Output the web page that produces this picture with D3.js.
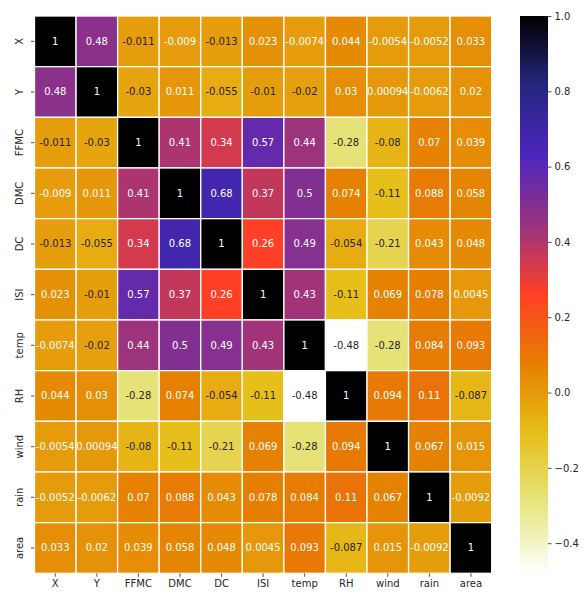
<!DOCTYPE html>
<html>
<head>
<meta charset="utf-8">
<script src="https://cdn.jsdelivr.net/npm/d3@7"></script>
<style>
  html, body { margin: 0; padding: 0; background: #fff; }
  svg { display: block; font-family: "DejaVu Sans", sans-serif; }
</style>
</head>
<body>
<svg id="chart" width="588" height="595"></svg>
<script>
// Forest fire feature correlation matrix
const variables = ["X", "Y", "FFMC", "DMC", "DC", "ISI", "temp", "RH", "wind", "rain", "area"];

const rowX    = [1, 0.48, -0.011, -0.009, -0.013, 0.023, -0.0074, 0.044, -0.0054, -0.0052, 0.033];
const rowY    = [0.48, 1, -0.03, 0.011, -0.055, -0.01, -0.02, 0.03, 0.00094, -0.0062, 0.02];
const rowFFMC = [-0.011, -0.03, 1, 0.41, 0.34, 0.57, 0.44, -0.28, -0.08, 0.07, 0.039];
const rowDMC  = [-0.009, 0.011, 0.41, 1, 0.68, 0.37, 0.5, 0.074, -0.11, 0.088, 0.058];
const rowDC   = [-0.013, -0.055, 0.34, 0.68, 1, 0.26, 0.49, -0.054, -0.21, 0.043, 0.048];
const rowISI  = [0.023, -0.01, 0.57, 0.37, 0.26, 1, 0.43, -0.11, 0.069, 0.078, 0.0045];
const rowTemp = [-0.0074, -0.02, 0.44, 0.5, 0.49, 0.43, 1, -0.48, -0.28, 0.084, 0.093];
const rowRH   = [0.044, 0.03, -0.28, 0.074, -0.054, -0.11, -0.48, 1, 0.094, 0.11, -0.087];
const rowWind = [-0.0054, 0.00094, -0.08, -0.11, -0.21, 0.069, -0.28, 0.094, 1, 0.067, 0.015];
const rowRain = [-0.0052, -0.0062, 0.07, 0.088, 0.043, 0.078, 0.084, 0.11, 0.067, 1, -0.0092];
const rowArea = [0.033, 0.02, 0.039, 0.058, 0.048, 0.0045, 0.093, -0.087, 0.015, -0.0092, 1];

const matrix = [rowX, rowY, rowFFMC, rowDMC, rowDC, rowISI, rowTemp, rowRH, rowWind, rowRain, rowArea];

const colorbarTicks = [1.0, 0.8, 0.6, 0.4, 0.2, 0.0, -0.2, -0.4];

// CMRmap segment data (reversed on use: high values dark, low values light)
const cmrStops = [0, 0.125, 0.25, 0.375, 0.5, 0.625, 0.75, 0.875, 1];
const cmrR = [0.00, 0.15, 0.30, 0.60, 1.00, 0.90, 0.90, 0.90, 1.00];
const cmrG = [0.00, 0.15, 0.15, 0.20, 0.25, 0.50, 0.75, 0.90, 1.00];
const cmrB = [0.00, 0.50, 0.75, 0.50, 0.15, 0.00, 0.10, 0.50, 1.00];

const vmin = d3.min(matrix.flat());
const vmax = 1;

const chR = d3.scaleLinear().domain(cmrStops).range(cmrR).clamp(true);
const chG = d3.scaleLinear().domain(cmrStops).range(cmrG).clamp(true);
const chB = d3.scaleLinear().domain(cmrStops).range(cmrB).clamp(true);
// value -> position along CMRmap (reversed)
const cmapPos = d3.scaleLinear().domain([vmin, vmax]).range([1, 0]).clamp(true);

function rgbOf(v) {
  const t = cmapPos(v);
  return [chR(t), chG(t), chB(t)];
}
function colorOf(v) {
  const [r, g, b] = rgbOf(v);
  return d3.rgb(r * 255, g * 255, b * 255).formatHex();
}
function luminance(v) {
  const lin = rgbOf(v).map(c => c <= 0.03928 ? c / 12.92 : Math.pow((c + 0.055) / 1.055, 2.4));
  return 0.2126 * lin[0] + 0.7152 * lin[1] + 0.0722 * lin[2];
}

const svg = d3.select("#chart");

const plotLeft = 34.5, plotRight = 491.7, plotTop = 16, plotBottom = 573.3;

const x = d3.scaleBand().domain(variables).range([plotLeft, plotRight]).padding(0);
const y = d3.scaleBand().domain(variables).range([plotTop, plotBottom]).padding(0);

const cells = [];
matrix.forEach((row, i) => row.forEach((v, j) => cells.push({ r: variables[i], c: variables[j], v })));

const annotFmt = d3.formatLocale({ decimal: ".", thousands: ",", grouping: [3], currency: ["", ""], minus: "-" }).format(".2~g");

const g = svg.append("g");
g.selectAll("rect.cell")
  .data(cells)
  .join("rect")
  .attr("class", "cell")
  .attr("x", d => x(d.c))
  .attr("y", d => y(d.r))
  .attr("width", x.bandwidth())
  .attr("height", y.bandwidth())
  .attr("fill", d => colorOf(d.v))
  .attr("stroke", "#fff")
  .attr("stroke-width", 1.3);

g.selectAll("text.annot")
  .data(cells)
  .join("text")
  .attr("class", "annot")
  .attr("x", d => x(d.c) + x.bandwidth() / 2)
  .attr("y", d => y(d.r) + y.bandwidth() / 2)
  .attr("text-anchor", "middle")
  .attr("dominant-baseline", "central")
  .attr("font-size", 10)
  .attr("fill", d => luminance(d.v) > 0.408 ? "#262626" : "#ffffff")
  .text(d => annotFmt(d.v));

// Axes
const xAxis = svg.append("g")
  .attr("transform", `translate(0,${plotBottom})`)
  .call(d3.axisBottom(x).tickSize(3.5).tickPadding(3.5));
xAxis.select(".domain").remove();
xAxis.selectAll("text").attr("font-size", 10).attr("fill", "#262626").attr("font-family", "DejaVu Sans, sans-serif");
xAxis.selectAll("line").attr("stroke", "#262626").attr("stroke-width", 0.8);

const yAxis = svg.append("g")
  .attr("transform", `translate(${plotLeft},0)`)
  .call(d3.axisLeft(y).tickSize(3.5).tickPadding(3.5));
yAxis.select(".domain").remove();
yAxis.selectAll("line").attr("stroke", "#262626").attr("stroke-width", 0.8);
yAxis.selectAll("text")
  .attr("font-size", 10)
  .attr("fill", "#262626")
  .attr("font-family", "DejaVu Sans, sans-serif")
  .attr("text-anchor", "middle")
  .attr("dy", null)
  .attr("x", 0)
  .attr("y", 0)
  .attr("transform", "translate(-15,0) rotate(-90)")
  .attr("dominant-baseline", "central");

// Colorbar
const cbX = 520, cbW = 28;
const cbScale = d3.scaleLinear().domain([vmin, vmax]).range([plotBottom, plotTop]);
const defs = svg.append("defs");
const grad = defs.append("linearGradient")
  .attr("id", "cbgrad")
  .attr("x1", 0).attr("y1", 1).attr("x2", 0).attr("y2", 0);
d3.range(0, 101).forEach(k => {
  const v = vmin + (vmax - vmin) * k / 100;
  grad.append("stop").attr("offset", `${k}%`).attr("stop-color", colorOf(v));
});
svg.append("rect")
  .attr("x", cbX)
  .attr("y", cbScale(vmax))
  .attr("width", cbW)
  .attr("height", cbScale(vmin) - cbScale(vmax))
  .attr("fill", "url(#cbgrad)");

const cbAxis = svg.append("g")
  .attr("transform", `translate(${cbX + cbW},0)`)
  .call(d3.axisRight(cbScale).tickValues(colorbarTicks).tickFormat(d3.format(".1f")).tickSize(3.5).tickPadding(3));
cbAxis.select(".domain").remove();
cbAxis.selectAll("line").attr("stroke", "#262626").attr("stroke-width", 0.8);
cbAxis.selectAll("text").attr("font-size", 10).attr("fill", "#262626").attr("font-family", "DejaVu Sans, sans-serif");
</script>
</body>
</html>
